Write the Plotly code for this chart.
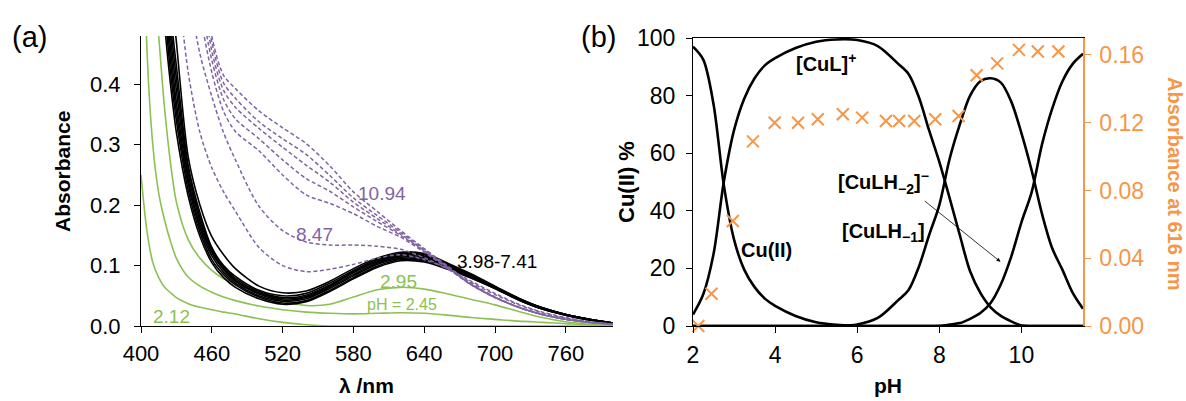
import plotly.graph_objects as go

# ---------------- Panel (a): UV-vis spectra ----------------
wavelength = [400, 405, 410, 415, 420, 425, 430, 440, 450, 460, 470, 480, 500, 520,
              540, 560, 580, 600, 620, 640, 660, 680, 700, 720, 740, 760, 780, 800]

green_ph = ["2.12", "2.45", "2.95"]
green_212 = [0.25, 0.158, 0.105, 0.08, 0.064, 0.055, 0.047, 0.037, 0.031, 0.027, 0.023, 0.020, 0.012, 0.006,
             0.002, 0.0, 0.0, 0.0, 0.0, 0.0, 0.0, 0.0, 0.0, 0.0, 0.0, 0.0, 0.0, 0.0]
green_245 = [0.9, 0.46, 0.30, 0.22, 0.175, 0.14, 0.112, 0.081, 0.066, 0.056, 0.048, 0.042, 0.033, 0.027,
             0.023, 0.021, 0.020, 0.021, 0.022, 0.021, 0.018, 0.014, 0.011, 0.008, 0.006, 0.004, 0.002, 0.001]
green_295 = [1.2, 0.8, 0.6, 0.48, 0.36, 0.27, 0.205, 0.143, 0.112, 0.092, 0.078, 0.070, 0.053, 0.041,
             0.034, 0.036, 0.048, 0.060, 0.064, 0.061, 0.053, 0.044, 0.035, 0.024, 0.014, 0.007, 0.003, 0.001]

# black: pH 3.98 - 7.41
black_1 = [1.3, 1.05, 0.82, 0.64, 0.50, 0.40, 0.32, 0.215, 0.148, 0.105, 0.080, 0.064, 0.045, 0.036,
           0.040, 0.057, 0.078, 0.097, 0.108, 0.106, 0.094, 0.079, 0.062, 0.043, 0.028, 0.018, 0.010, 0.005]
black_2 = [1.35, 1.1, 0.86, 0.67, 0.53, 0.42, 0.34, 0.225, 0.155, 0.110, 0.085, 0.068, 0.048, 0.038,
           0.042, 0.059, 0.080, 0.099, 0.110, 0.108, 0.096, 0.080, 0.062, 0.043, 0.028, 0.018, 0.010, 0.005]
black_3 = [1.4, 1.12, 0.88, 0.69, 0.55, 0.44, 0.355, 0.235, 0.162, 0.116, 0.089, 0.071, 0.050, 0.041,
           0.045, 0.062, 0.083, 0.102, 0.112, 0.110, 0.097, 0.081, 0.063, 0.044, 0.029, 0.018, 0.010, 0.005]
black_4 = [1.42, 1.15, 0.90, 0.71, 0.57, 0.46, 0.37, 0.242, 0.168, 0.121, 0.093, 0.074, 0.053, 0.043,
           0.047, 0.064, 0.085, 0.104, 0.114, 0.112, 0.098, 0.082, 0.064, 0.044, 0.029, 0.019, 0.011, 0.005]
black_5 = [1.45, 1.18, 0.93, 0.74, 0.59, 0.48, 0.39, 0.250, 0.174, 0.124, 0.095, 0.076, 0.055, 0.045,
           0.049, 0.066, 0.088, 0.106, 0.116, 0.114, 0.100, 0.083, 0.064, 0.045, 0.030, 0.019, 0.011, 0.005]
black_6 = [1.5, 1.2, 0.96, 0.77, 0.62, 0.50, 0.41, 0.258, 0.180, 0.128, 0.098, 0.079, 0.057, 0.047,
           0.051, 0.068, 0.090, 0.108, 0.118, 0.116, 0.101, 0.084, 0.065, 0.045, 0.030, 0.019, 0.011, 0.005]
black_7 = [1.52, 1.23, 0.98, 0.79, 0.64, 0.52, 0.43, 0.266, 0.187, 0.130, 0.100, 0.082, 0.059, 0.050,
           0.054, 0.071, 0.092, 0.110, 0.120, 0.118, 0.102, 0.085, 0.065, 0.046, 0.030, 0.019, 0.011, 0.005]
black_8 = [1.6, 1.3, 1.05, 0.85, 0.69, 0.57, 0.47, 0.280, 0.200, 0.148, 0.118, 0.095, 0.066, 0.055,
           0.058, 0.074, 0.095, 0.112, 0.122, 0.120, 0.104, 0.086, 0.066, 0.046, 0.030, 0.019, 0.011, 0.005]

# purple (dashed): pH 7.90 - 10.94
purple_1 = [2.0, 1.7, 1.4, 1.15, 0.92, 0.75, 0.60, 0.42, 0.32, 0.262, 0.222, 0.190, 0.130, 0.100,
            0.090, 0.094, 0.102, 0.112, 0.118, 0.110, 0.095, 0.074, 0.054, 0.036, 0.023, 0.014, 0.007, 0.003]
purple_2 = [2.2, 1.9, 1.6, 1.35, 1.1, 0.90, 0.75, 0.56, 0.45, 0.38, 0.32, 0.275, 0.198, 0.158,
            0.139, 0.134, 0.134, 0.132, 0.127, 0.113, 0.094, 0.072, 0.052, 0.035, 0.022, 0.013, 0.007, 0.003]
purple_3 = [2.4, 2.1, 1.8, 1.55, 1.3, 1.1, 0.92, 0.70, 0.52, 0.42, 0.355, 0.322, 0.290, 0.250,
            0.217, 0.203, 0.186, 0.165, 0.147, 0.122, 0.095, 0.068, 0.047, 0.031, 0.019, 0.011, 0.006, 0.003]
purple_4 = [2.5, 2.2, 1.9, 1.6, 1.35, 1.15, 0.96, 0.75, 0.55, 0.44, 0.375, 0.343, 0.310, 0.275,
            0.244, 0.223, 0.197, 0.173, 0.150, 0.124, 0.096, 0.068, 0.047, 0.031, 0.019, 0.011, 0.006, 0.003]
purple_5 = [2.6, 2.3, 2.0, 1.7, 1.4, 1.2, 1.0, 0.80, 0.60, 0.455, 0.390, 0.362, 0.327, 0.296,
            0.266, 0.238, 0.205, 0.178, 0.152, 0.125, 0.097, 0.068, 0.047, 0.031, 0.019, 0.011, 0.006, 0.003]
purple_6 = [2.7, 2.4, 2.1, 1.8, 1.5, 1.25, 1.05, 0.85, 0.63, 0.47, 0.402, 0.377, 0.338, 0.310,
            0.284, 0.249, 0.212, 0.183, 0.155, 0.127, 0.098, 0.069, 0.048, 0.031, 0.019, 0.011, 0.006, 0.003]
purple_7 = [2.8, 2.5, 2.2, 1.9, 1.6, 1.3, 1.1, 0.90, 0.66, 0.48, 0.415, 0.393, 0.356, 0.328,
            0.302, 0.265, 0.222, 0.190, 0.158, 0.128, 0.099, 0.070, 0.048, 0.031, 0.019, 0.011, 0.006, 0.003]

# ---------------- Panel (b): speciation + absorbance ----------------
ph_grid = [2.0, 2.25, 2.5, 2.75, 3.0, 3.25, 3.5, 3.75, 4.0, 4.5, 5.0, 5.5, 6.0, 6.5, 7.0, 7.25, 7.5,
           7.75, 8.0, 8.25, 8.5, 8.75, 9.0, 9.25, 9.5, 9.75, 10.0, 10.25, 10.5, 10.75, 11.0, 11.25, 11.5]
cu_free = [97, 92.5, 77, 49, 30, 19.5, 13.5, 9.5, 7.0, 3.5, 1.3, 0.4, 0.1, 0, 0, 0, 0,
           0, 0, 0, 0, 0, 0, 0, 0, 0, 0, 0, 0, 0, 0, 0, 0]
cu_l = [4, 11, 25, 50, 68, 79, 86, 90.5, 93, 96.5, 98.7, 99.5, 99.3, 97.2, 91, 87.5, 79.5,
        68, 57, 44.5, 31.5, 19, 11.5, 6.5, 3.5, 1.6, 0.2, 0, 0, 0, 0, 0, 0]
cu_lh_1 = [0, 0, 0, 0, 0, 0, 0, 0, 0, 0, 0, 0, 0.5, 2.8, 9, 12.5, 20.5,
           31.5, 42, 58, 70, 80, 85, 86, 84.5, 78, 67, 54, 39, 27, 19.5, 11.5, 6]
cu_lh_2 = [0, 0, 0, 0, 0, 0, 0, 0, 0, 0, 0, 0, 0, 0, 0, 0, 0,
           0, 0.1, 0.5, 1, 2.5, 4.5, 8, 14.5, 24, 36, 46.5, 63, 75.5, 85, 91, 94.5]

abs_ph = [2.13, 2.45, 2.97, 3.46, 3.99, 4.56, 5.04, 5.65, 6.12, 6.70, 7.02, 7.39, 7.90,
          8.47, 8.91, 9.41, 9.94, 10.40, 10.90]
abs_616 = [0.000, 0.019, 0.062, 0.109, 0.120, 0.120, 0.122, 0.125, 0.123, 0.121, 0.121, 0.121, 0.122,
           0.124, 0.148, 0.155, 0.163, 0.162, 0.162]

# ---------------- styling ----------------
GREEN = "#8CC152"
PURPLE = "#8064A2"
ORANGE = "#F79646"
FONT = "Liberation Sans, Arial, sans-serif"
W, H = 1186, 401

fig = go.Figure()

for ys in [green_212, green_245, green_295]:
    fig.add_trace(go.Scatter(x=wavelength, y=ys, mode="lines", xaxis="x", yaxis="y",
                             line=dict(color=GREEN, width=1.6, shape="spline", smoothing=0.8),
                             showlegend=False, hoverinfo="skip"))
for ys in [black_1, black_2, black_3, black_4, black_5, black_6, black_7, black_8]:
    fig.add_trace(go.Scatter(x=wavelength, y=ys, mode="lines", xaxis="x", yaxis="y",
                             line=dict(color="black", width=1.6, shape="spline", smoothing=0.8),
                             showlegend=False, hoverinfo="skip"))
for ys in [purple_1, purple_2, purple_3, purple_4, purple_5, purple_6, purple_7]:
    fig.add_trace(go.Scatter(x=wavelength, y=ys, mode="lines", xaxis="x", yaxis="y",
                             line=dict(color=PURPLE, width=1.5, dash="4px,2.5px", shape="spline", smoothing=0.8),
                             showlegend=False, hoverinfo="skip"))

for ys in [cu_free, cu_l, cu_lh_1, cu_lh_2]:
    fig.add_trace(go.Scatter(x=ph_grid, y=ys, mode="lines", xaxis="x2", yaxis="y2",
                             line=dict(color="black", width=2.6, shape="spline", smoothing=0.9),
                             showlegend=False, hoverinfo="skip", cliponaxis=True))

fig.add_trace(go.Scatter(x=abs_ph, y=abs_616, mode="markers", xaxis="x2", yaxis="y3",
                         marker=dict(symbol="x-thin", size=12, color=ORANGE,
                                     line=dict(color=ORANGE, width=2)),
                         showlegend=False, hoverinfo="skip", cliponaxis=False))

ybot = 1 - 326 / H
ytop_a = 1 - 36 / H
ytop_b = 1 - 38 / H

axis_common = dict(showgrid=False, zeroline=False, showline=True, linecolor="black", linewidth=1.2,
                   ticks="outside", ticklen=6, tickwidth=1.2, tickcolor="black", automargin=False)

fig.update_layout(
    width=W, height=H, autosize=False,
    margin=dict(l=0, r=0, t=0, b=0),
    paper_bgcolor="white", plot_bgcolor="white",
    font=dict(family=FONT, color="black"),
    xaxis=dict(domain=[141 / W, 613 / W], range=[400, 800], tickvals=[400, 460, 520, 580, 640, 700, 760],
               anchor="y", tickfont=dict(size=22), ticklabelstandoff=1, **axis_common),
    yaxis=dict(domain=[ybot, ytop_a], range=[0, 0.48], tickvals=[0, 0.1, 0.2, 0.3, 0.4], tickformat=".1f",
               anchor="x", tickfont=dict(size=22), ticklabelstandoff=9, **axis_common),
    xaxis2=dict(domain=[693 / W, 1083 / W], range=[2, 11.5], tickvals=[2, 4, 6, 8, 10], anchor="y2",
                mirror=True, tickfont=dict(size=23), ticklabelstandoff=2, **axis_common),
    yaxis2=dict(domain=[ybot, ytop_b], range=[0, 100], tickvals=[0, 20, 40, 60, 80, 100], anchor="x2",
                tickfont=dict(size=23), ticklabelstandoff=6, **axis_common),
    yaxis3=dict(range=[0, 0.17], tickvals=[0, 0.04, 0.08, 0.12, 0.16], tickformat=".2f",
                overlaying="y2", side="right", anchor="x2", showgrid=False, zeroline=False,
                showline=True, linecolor=ORANGE, linewidth=1.5, ticks="outside", ticklen=6,
                tickwidth=1.2, tickcolor=ORANGE, tickfont=dict(size=23, color=ORANGE),
                ticklabelstandoff=4, automargin=False),
)

ann = []
# panel labels
ann.append(dict(text="(a)", x=29 / W, y=1 - 37 / H, xref="paper", yref="paper", showarrow=False,
                font=dict(size=29), xanchor="center", yanchor="middle"))
ann.append(dict(text="(b)", x=598 / W, y=1 - 37 / H, xref="paper", yref="paper", showarrow=False,
                font=dict(size=29), xanchor="center", yanchor="middle"))
# axis titles
ann.append(dict(text="<b>Absorbance</b>", x=63 / W, y=1 - 172 / H, xref="paper", yref="paper",
                showarrow=False, textangle=-90, font=dict(size=21), xanchor="center", yanchor="middle"))
ann.append(dict(text="<b>λ /nm</b>", x=366 / W, y=1 - 385 / H, xref="paper", yref="paper",
                showarrow=False, font=dict(size=21), xanchor="center", yanchor="middle"))
ann.append(dict(text="<b>Cu(II) %</b>", x=627 / W, y=1 - 182 / H, xref="paper", yref="paper",
                showarrow=False, textangle=-90, font=dict(size=22), xanchor="center", yanchor="middle"))
ann.append(dict(text="<b>pH</b>", x=888 / W, y=1 - 385 / H, xref="paper", yref="paper",
                showarrow=False, font=dict(size=21), xanchor="center", yanchor="middle"))
ann.append(dict(text="<b>Absorbance at 616 nm</b>", x=1175 / W, y=1 - 183 / H, xref="paper", yref="paper",
                showarrow=False, textangle=90, font=dict(size=20, color=ORANGE),
                xanchor="center", yanchor="middle"))

# panel (a) curve labels
for txt, lx, ly, col, sz in [("10.94", 604, 0.220, PURPLE, 19),
                             ("8.47", 547, 0.151, PURPLE, 19),
                             ("3.98-7.41", 702, 0.106, "black", 19),
                             ("2.95", 618, 0.073, GREEN, 19),
                             ("pH = 2.45", 621, 0.035, GREEN, 16),
                             ("2.12", 426, 0.015, GREEN, 19)]:
    ann.append(dict(text=txt, x=lx, y=ly, xref="x", yref="y", showarrow=False,
                    font=dict(size=sz, color=col), xanchor="center", yanchor="middle"))

# panel (b) species labels
for txt, lx, ly in [("<b>[CuL]<sup>+</sup></b>", 5.24, 91.5),
                    ("<b>Cu(II)</b>", 3.8, 26.4),
                    ("<b>[CuLH<sub>−1</sub>]</b>", 6.63, 32.3),
                    ("<b>[CuLH<sub>−2</sub>]<sup>−</sup></b>", 6.63, 49.7)]:
    ann.append(dict(text=txt, x=lx, y=ly, xref="x2", yref="y2", showarrow=False,
                    font=dict(size=20), xanchor="center", yanchor="middle"))

ann.append(dict(text="", x=9.49, y=22.3, xref="x2", yref="y2", ax=7.61, ay=43.8, axref="x2", ayref="y2",
                showarrow=True, arrowhead=2, arrowsize=1, arrowwidth=0.8, arrowcolor="black"))

fig.update_layout(annotations=ann)

fig.write_html("out.html", config={"displayModeBar": False},
               post_script="document.body.style.margin='0px'; document.body.style.overflow='hidden';")
